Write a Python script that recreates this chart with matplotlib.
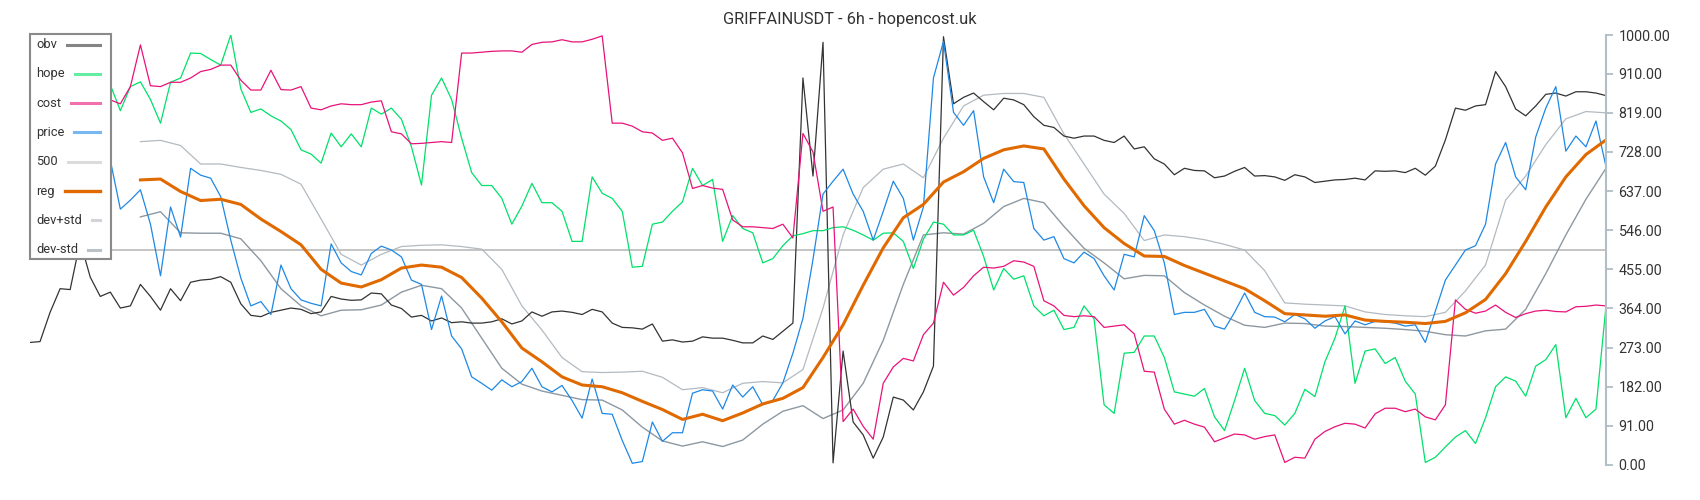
import numpy as np
import matplotlib.pyplot as plt
from matplotlib.patches import Rectangle
from matplotlib.lines import Line2D

plt.rcParams['font.family'] = ['Roboto', 'DejaVu Sans']

title = 'GRIFFAINUSDT - 6h - hopencost.uk'

# noisy series, one value per candle step
obv = [
    285, 287, 355, 410, 408, 520, 437, 392, 402, 365,
    370, 420, 392, 360, 410, 382, 425, 430, 432, 438,
    425, 375, 348, 345, 355, 360, 365, 362, 352, 356,
    392, 386, 383, 384, 400, 398, 372, 364, 344, 348,
    335, 342, 331, 333, 330, 330, 333, 340, 328, 335,
    356, 346, 356, 358, 355, 350, 362, 356, 330, 320,
    319, 316, 328, 288, 291, 286, 288, 298, 295, 295,
    290, 284, 284, 300, 292, 311, 330, 900, 672, 983,
    5, 265, 100, 70, 16, 65, 158, 151, 128, 170,
    230, 996, 840, 855, 865, 845, 826, 853, 849, 838,
    810, 790, 785, 765, 760, 765, 765, 755, 750, 765,
    735, 740, 712, 700, 675, 690, 685, 684, 668, 672,
    683, 692, 672, 673, 670, 662, 675, 670, 657, 660,
    663, 664, 667, 663, 684, 683, 684, 680, 690, 674,
    695, 756, 830, 825, 835, 838, 915, 880, 828, 812,
    835, 862, 865, 858, 868, 868, 865, 859,
]

hope = [
    872, 860, 880, 850, 900, 870, 890, 860, 884, 824,
    880, 891, 850, 795, 890, 900, 958, 957, 943, 930,
    1000, 875, 820, 828, 812, 800, 780, 733, 723, 702,
    772, 740, 770, 740, 830, 816, 830, 804, 740, 651,
    860, 900, 850, 760, 680, 650, 650, 620, 560, 602,
    655, 610, 610, 590, 520, 520, 670, 632, 620, 590,
    460, 462, 560, 565, 590, 612, 690, 650, 664, 520,
    580, 550, 540, 470, 480, 510, 533, 538, 545, 545,
    552, 554, 546, 535, 523, 539, 540, 520, 457, 525,
    565, 560, 535, 535, 546, 485, 407, 457, 432, 440,
    370, 347, 360, 315, 320, 370, 340, 140, 120, 260,
    262, 300, 300, 250, 170, 165, 160, 178, 112, 80,
    150, 225, 150, 120, 115, 93, 120, 176, 159, 240,
    295, 370, 190, 265, 270, 236, 250, 195, 165, 6,
    18, 42, 65, 80, 50, 110, 182, 205, 195, 160,
    230, 245, 280, 110, 155, 110, 130, 370,
]

cost = [
    845, 850, 855, 850, 860, 855, 850, 852, 849, 840,
    880, 977, 882, 880, 890, 890, 900, 915, 920, 930,
    930, 895, 872, 872, 918, 873, 872, 880, 830, 826,
    835, 840, 838, 838, 844, 847, 775, 770, 747, 748,
    750, 752, 750, 958, 958, 960, 962, 963, 963, 960,
    978, 983, 984, 989, 984, 984, 990, 998, 795, 795,
    788, 775, 772, 755, 760, 726, 643, 650, 644, 641,
    570, 554, 554, 552, 550, 560, 528, 771, 728, 590,
    600, 101, 130, 90, 60, 190, 228, 248, 242, 303,
    330, 425, 395, 413, 440, 460, 458, 462, 475, 472,
    462, 382, 370, 348, 345, 347, 345, 320, 323, 326,
    305, 218, 216, 130, 95, 104, 95, 88, 54, 63,
    72, 70, 60, 66, 70, 6, 18, 16, 60, 78,
    89, 97, 95, 86, 119, 132, 132, 124, 130, 112,
    105, 140, 384, 362, 353, 358, 372, 355, 343, 352,
    358, 360, 357, 356, 368, 369, 372, 370,
]

price = [
    720, 700, 740, 760, 730, 750, 720, 690, 709, 595,
    616, 640, 560, 440, 600, 530, 690, 674, 667, 624,
    523, 435, 370, 380, 350, 465, 410, 384, 376, 370,
    514, 470, 450, 442, 492, 509, 500, 484, 430, 420,
    315, 393, 300, 270, 205, 190, 174, 198, 182, 194,
    225, 182, 170, 185, 150, 109, 200, 120, 118, 57,
    4, 8, 100, 55, 75, 75, 167, 175, 172, 130,
    186, 158, 182, 140, 150, 191, 260, 341, 478, 630,
    660, 688, 630, 590, 523, 590, 660, 620, 523, 600,
    900, 985, 820, 790, 824, 670, 610, 688, 659, 657,
    550, 523, 531, 480, 470, 495, 480, 440, 407, 490,
    484, 580, 545, 470, 350, 355, 355, 362, 323, 316,
    355, 400, 355, 345, 344, 333, 350, 340, 318, 335,
    345, 305, 335, 326, 334, 333, 330, 323, 326, 285,
    358, 430, 465, 500, 510, 560, 700, 750, 670, 640,
    763, 830, 880, 730, 765, 740, 800, 694,
]

# smooth series, read every second step from step 11 on
reg = [
    663, 665, 636, 615, 618, 606, 572, 543, 512, 455,
    423, 414, 431, 458, 465, 460, 436, 388, 333, 272,
    240, 205, 186, 182, 168, 148, 129, 106, 118, 103,
    121, 142, 155, 180, 250, 326, 418, 505, 575, 606,
    658, 682, 713, 733, 742, 735, 665, 603, 552, 515,
    486, 485, 464, 446, 428, 410, 382, 352, 349, 346,
    349, 337, 334, 332, 329, 334, 354, 385, 445, 520,
    600, 670, 722, 756,
]

dev_plus = [
    752, 755, 743, 700, 700, 692, 685, 676, 653, 572,
    490, 465, 490, 508, 511, 512, 508, 502, 455, 370,
    314, 250, 217, 215, 216, 218, 204, 175, 180, 168,
    190, 194, 191, 222, 365, 535, 645, 688, 700, 668,
    760, 835, 860, 864, 864, 855, 770, 700, 630, 585,
    522, 535, 531, 524, 513, 500, 452, 377, 374, 372,
    370, 356, 350, 347, 345, 355, 405, 465, 616, 672,
    745, 805, 822, 819,
]

dev_minus = [
    577, 589, 540, 539, 539, 526, 475, 410, 370, 347,
    360, 361, 372, 402, 418, 410, 365, 295, 225, 188,
    172, 162, 152, 151, 128, 88, 56, 44, 54, 43,
    58, 95, 125, 138, 108, 128, 190, 290, 420, 535,
    540, 537, 562, 601, 620, 610, 555, 504, 470, 433,
    441, 440, 401, 372, 346, 325, 320, 330, 329, 323,
    322, 320, 318, 315, 311, 303, 300, 312, 316, 362,
    445, 535, 618, 690,
]

level_500 = 500
tick_values = [0, 91, 182, 273, 364, 455, 546, 637, 728, 819, 910, 1000]

x = np.arange(len(obv))
band_x = np.arange(11, len(obv), 2)

W, H = 1700, 500
fig = plt.figure(figsize=(W / 100, H / 100), dpi=100)
ax = fig.add_axes([30 / W, 35 / H, 1576 / W, 430 / H])

h500 = ax.axhline(level_500, color='#c4c4c4', lw=1.4, label='500')
h_up, = ax.plot(band_x, dev_plus, color='#b3bac0', lw=0.9, label='dev+std')
h_lo, = ax.plot(band_x, dev_minus, color='#8d98a1', lw=1.0, label='dev-std')
h_obv, = ax.plot(x, obv, color='#333333', lw=0.9, label='obv')
h_hope, = ax.plot(x, hope, color='#00e06a', lw=0.9, label='hope')
h_cost, = ax.plot(x, cost, color='#e8137a', lw=0.9, label='cost')
h_price, = ax.plot(x, price, color='#1e88e5', lw=0.9, label='price')
h_reg, = ax.plot(band_x, reg, color='#e06900', lw=2.2, label='reg')

ax.set_xlim(0, len(obv) - 1)
ax.set_ylim(0, 1000)
ax.set_xticks([])
ax.yaxis.tick_right()
ax.set_yticks(tick_values)
ax.set_yticklabels([f'{v:.2f}' for v in tick_values])
for side in ['left', 'top', 'bottom']:
    ax.spines[side].set_visible(False)
ax.spines['right'].set_color('#b0bec5')
ax.spines['right'].set_linewidth(1.5)
ax.tick_params(axis='y', colors='#b0bec5', labelcolor='#333333',
               length=5, width=1.3, labelsize=10.3, pad=4)


# legend box: label on the left, swatch running to the right edge
def fx(px):
    return px / W


def fy(py):
    return 1 - py / H


handles = [h_obv, h_hope, h_cost, h_price, h500, h_reg, h_up, h_lo]
fig.add_artist(Rectangle((fx(30), fy(259)), fx(111) - fx(30), fy(34) - fy(259),
                         transform=fig.transFigure, facecolor='white',
                         edgecolor='#8a8a8a', lw=1.5, zorder=5))
renderer = fig.canvas.get_renderer()
for k, h in enumerate(handles):
    yk = 44.5 + 29.3 * k
    t = fig.text(fx(36), fy(yk), h.get_label(), ha='left', va='center',
                 fontsize=9.3, color='#333333', zorder=6)
    x_end = t.get_window_extent(renderer).x1 + 10
    is_reg = h is h_reg
    fig.add_artist(Line2D([fx(x_end), fx(100)], [fy(yk), fy(yk)],
                          transform=fig.transFigure, color=h.get_color(),
                          lw=2.4 if is_reg else 2.2,
                          alpha=1.0 if is_reg else 0.6, zorder=6))

fig.text(0.5, fy(19.5), title, ha='center', va='center',
         fontsize=11.8, color='#333333')

fig.savefig('out.png', dpi=100)
